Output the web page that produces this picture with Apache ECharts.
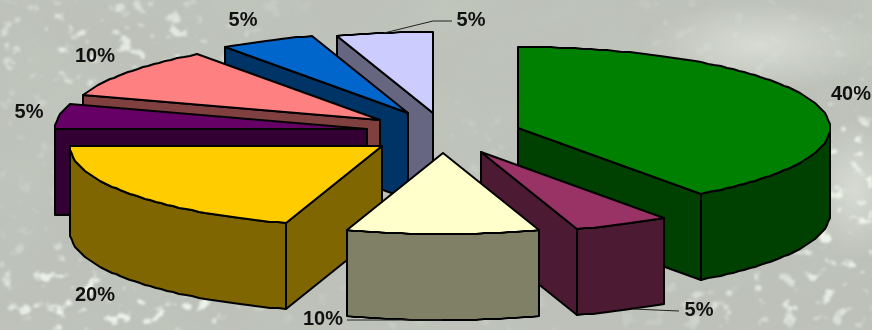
<!DOCTYPE html>
<html>
<head>
<meta charset="utf-8">
<style>
  html, body { margin: 0; padding: 0; width: 872px; height: 330px; overflow: hidden; background: #bcc1b8; }
  #foliage, #chart { position: absolute; left: 0; top: 0; width: 872px; height: 330px; }
</style>
<script src="https://cdn.jsdelivr.net/npm/echarts@6/dist/echarts.min.js"></script>
</head>
<body>
<!-- Washed-out canopy backdrop behind the pie -->
<svg id="foliage" xmlns="http://www.w3.org/2000/svg" width="872" height="330">
  <defs>
    <filter id="flecks" x="0" y="0" width="100%" height="100%">
      <feTurbulence type="fractalNoise" baseFrequency="0.06 0.07" numOctaves="3" seed="7"/>
      <feColorMatrix type="matrix" values="0 0 0 0 0.86  0 0 0 0 0.90  0 0 0 0 0.82  8 0 0 0 -4.8"/>
      <feGaussianBlur stdDeviation="0.9"/>
    </filter>
    <filter id="mottle" x="0" y="0" width="100%" height="100%">
      <feTurbulence type="fractalNoise" baseFrequency="0.01 0.014" numOctaves="2" seed="3"/>
      <feColorMatrix type="matrix" values="0 0 0 0 0.56  0 0 0 0 0.60  0 0 0 0 0.53  2.4 0 0 0 -0.9"/>
    </filter>
    <filter id="soft"><feGaussianBlur stdDeviation="16"/></filter>
    <mask id="fleckZones">
      <rect width="872" height="330" fill="#2c2c2c"/>
      <g filter="url(#soft)">
        <rect x="300" y="-20" width="340" height="130" fill="#000"/>
        <ellipse cx="120" cy="50" rx="130" ry="50" fill="#ccc"/>
        <ellipse cx="120" cy="295" rx="130" ry="50" fill="#fff"/>
        <ellipse cx="845" cy="210" rx="50" ry="120" fill="#fff"/>
        <ellipse cx="780" cy="300" rx="100" ry="30" fill="#ccc"/>
      </g>
    </mask>
    <radialGradient id="glow">
      <stop offset="0" stop-color="#dfe3da" stop-opacity="0.75"/>
      <stop offset="1" stop-color="#dfe3da" stop-opacity="0"/>
    </radialGradient>
  </defs>
  <rect width="872" height="330" fill="#bdc1b9"/>
  <rect width="872" height="330" filter="url(#mottle)" opacity="0.45"/>
  <ellipse cx="760" cy="45" rx="120" ry="45" fill="url(#glow)"/>
  <ellipse cx="855" cy="190" rx="45" ry="70" fill="url(#glow)"/>
  <rect width="872" height="330" filter="url(#flecks)" mask="url(#fleckZones)"/>
</svg>
<div id="chart"></div>
<script>
// Share of each slice, clockwise from twelve o'clock
const sliceValues = [40, 5, 10, 20, 5, 10, 5, 5];
const sliceLabels = ['40%', '5%', '10%', '20%', '5%', '10%', '5%', '5%'];

// Face colours per slice
const topColors  = ['#008000', '#993366', '#ffffcc', '#ffcc00', '#660066', '#ff8080', '#0066cc', '#ccccff'];
const wallColors = ['#004000', '#4d1a33', '#808066', '#806600', '#330033', '#804040', '#003366', '#666680'];

// Pie projection
const pieCentre = [442, 132];
const pieRadius = 312;
const tilt = 0.26;
const depth = 86;

// How far each slice is pulled out of the pie, in pixels
const sliceOffsets = [[76, -4], [39, 20], [1, 21], [-60, 14], [-75, -3], [-62, -12], [-34, -19], [-9, -19]];

// Label anchors and their optional leader lines
const labelAnchors = [[851, 94], [699, 310], [323, 319], [95, 295], [29, 112], [95, 56], [243, 20], [471, 20]];
const leaderLines = [null, [[633, 309], [679, 311]], [[347, 320], [442, 320]], null, null, null, null, [[384, 33], [433, 21], [452, 21]]];

// Back-to-front painting order
const paintOrder = [7, 6, 5, 4, 3, 0, 1, 2];

const total = sliceValues.reduce((a, b) => a + b, 0);
const startAngles = [];
sliceValues.reduce((acc, v, i) => { startAngles[i] = acc; return acc + v / total * 360; }, 0);

const rad = d => d * Math.PI / 180;

const rimPoint = (apex, deg) => [
  Math.round(apex[0] + pieRadius * Math.sin(rad(deg))),
  Math.round(apex[1] - pieRadius * tilt * Math.cos(rad(deg)))
];

function arcPoints(apex, from, to) {
  const pts = [];
  const steps = Math.max(1, Math.ceil((to - from) / 1.5));
  for (let s = 0; s <= steps; s++) pts.push(rimPoint(apex, from + (to - from) * s / steps));
  return pts;
}

const down = p => [p[0], p[1] + depth];

function face(points, fill) {
  return {
    type: 'polygon',
    shape: { points },
    style: { fill, stroke: '#000', lineWidth: 2, lineJoin: 'round' }
  };
}

function renderSlice(params, api) {
  const i = api.value(1);
  const from = startAngles[i];
  const to = from + api.value(0) / total * 360;
  const apex = [pieCentre[0] + sliceOffsets[i][0], pieCentre[1] + sliceOffsets[i][1]];
  const children = [];

  // Radial walls that face the viewer
  const radialWall = deg => {
    const rim = rimPoint(apex, deg);
    children.push(face([apex, rim, down(rim), down(apex)], wallColors[i]));
  };
  if (Math.cos(rad(from - 90)) < -1e-6) radialWall(from);
  if (Math.cos(rad(to + 90)) < -1e-6) radialWall(to);

  // Curved outer wall on the front half of the rim
  const a = Math.max(from, 90), b = Math.min(to, 270);
  if (b > a) {
    const arc = arcPoints(apex, a, b);
    children.push(face(arc.concat(arc.map(down).reverse()), wallColors[i]));
  }

  // Top face
  children.push(face([apex].concat(arcPoints(apex, from, to)), topColors[i]));
  return { type: 'group', children };
}

function renderLabel(params, api) {
  const i = api.value(1);
  const children = [];
  if (leaderLines[i]) {
    children.push({
      type: 'polyline',
      shape: { points: leaderLines[i] },
      style: { fill: 'none', stroke: '#222', lineWidth: 1 }
    });
  }
  children.push({
    type: 'text',
    style: {
      text: sliceLabels[i],
      x: labelAnchors[i][0],
      y: labelAnchors[i][1],
      align: 'center',
      verticalAlign: 'middle',
      font: 'bold 20px "Liberation Sans", Arial, sans-serif',
      fill: '#111'
    }
  });
  return { type: 'group', children };
}

const chart = echarts.init(document.getElementById('chart'), null, { renderer: 'canvas' });
chart.setOption({
  animation: false,
  backgroundColor: 'transparent',
  series: [
    {
      type: 'custom',
      coordinateSystem: 'none',
      renderItem: renderSlice,
      silent: true,
      data: paintOrder.map(i => [sliceValues[i], i])
    },
    {
      type: 'custom',
      coordinateSystem: 'none',
      renderItem: renderLabel,
      silent: true,
      z: 5,
      data: paintOrder.map(i => [sliceValues[i], i])
    }
  ]
});
</script>
</body>
</html>
